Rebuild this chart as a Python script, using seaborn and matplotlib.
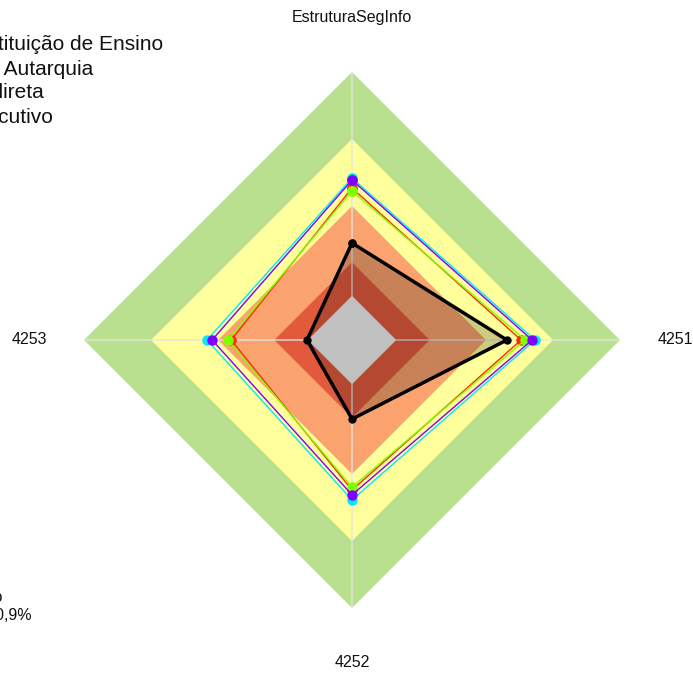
import numpy as np
import pandas as pd
import matplotlib
matplotlib.use("Agg")
import matplotlib.pyplot as plt
import seaborn as sns

sns.set_theme(style="white")
plt.rcParams["font.family"] = ["Liberation Sans", "DejaVu Sans"]

# Radar axes (clockwise from the top)
categorias = ["EstruturaSegInfo", "4251", "4252", "4253"]

# Maturity bands (outer limit of each ring, in %)
faixas_limite = [100, 75, 50, 29, 16.5]
faixas_cor = ["#b9e08e", "#ffff9c", "#fba36f", "#e25a3c", "#c0c0c0"]

# Reference groups
grupos = ["Instituição de Ensino", "Autarquia", "Indireta", "Executivo"]
grupos_cor = ["#00e8ff", "#8000ff", "#ff2a00", "#80ff00"]
grupos_valores = [
    [60.4, 68.3, 59.7, 54.1],
    [59.7, 67.2, 57.8, 52.2],
    [56.7, 63.1, 56.0, 45.1],
    [55.6, 64.6, 54.9, 46.3],
]

# Organisation being evaluated
orgao_valores = [36.2, 57.8, 29.5, 16.8]

n = len(categorias)
angulos = np.arange(n) * 2 * np.pi / n
angulos_fech = np.append(angulos, angulos[0] + 2 * np.pi)


def fechar(v):
    return np.append(v, v[0])


fig = plt.figure(figsize=(6.93, 6.75), dpi=100)
ax = fig.add_axes([0.1212, 0.0993, 0.7735, 0.794], projection="polar")
ax.set_theta_zero_location("N")
ax.set_theta_direction(-1)
ax.set_ylim(0, 100)
ax.set_xticks([])
ax.set_yticks([])
ax.grid(False)
ax.spines["polar"].set_visible(False)

# Background rings (all but the central one)
for lim, cor in zip(faixas_limite[:-1], faixas_cor[:-1]):
    ax.fill(angulos_fech, fechar(np.full(n, lim)), color=cor, lw=0, zorder=1)

# Spokes
ax.vlines(angulos, 0, 100, colors="#e4e4e4", lw=1.2, alpha=0.8, zorder=2)

# Organisation area
ax.fill(angulos_fech, fechar(orgao_valores), color="black", alpha=0.2, lw=0, zorder=3)

# Central ring
ax.fill(angulos_fech, fechar(np.full(n, faixas_limite[-1])), color=faixas_cor[-1], lw=0, zorder=4)

# Reference groups
ordem = [0, 2, 3, 1]
for i in ordem:
    df = pd.DataFrame({"theta": angulos_fech, "valor": fechar(grupos_valores[i])})
    sns.lineplot(data=df, x="theta", y="valor", sort=False, estimator=None,
                 color=grupos_cor[i], lw=1.0, marker="o", markersize=7.5,
                 markeredgewidth=0, ax=ax, zorder=5 + ordem.index(i))

# Organisation
df_org = pd.DataFrame({"theta": angulos_fech, "valor": fechar(orgao_valores)})
sns.lineplot(data=df_org, x="theta", y="valor", sort=False, estimator=None,
             color="black", lw=2.5, marker="o", markersize=6, markeredgewidth=0,
             ax=ax, zorder=10)
ax.set_xlabel("")
ax.set_ylabel("")

# Axis labels
for ang, nome in zip(angulos, categorias):
    ax.text(ang, 120.5, nome, ha="center", va="center", fontsize=11.5,
            color="#111111", clip_on=False)

# Group description (right-aligned block running off the left edge)
linhas = ["Instituição de Ensino", "É Autarquia", "Indireta", "Executivo"]
fim_px = [163, 93, 44, 53]
for k, (txt, xf) in enumerate(zip(linhas, fim_px)):
    fig.text(xf / 693, 1 - (44 + 24.5 * k) / 675, txt, ha="right", va="center",
             fontsize=15, color="#111111")

fig.text(3 / 693, 1 - 596 / 675, "Órgão", ha="right", va="center", fontsize=11.5,
         color="#111111")
fig.text(32 / 693, 1 - 616 / 675, "Geral: 30,9%", ha="right", va="center",
         fontsize=11.5, color="#111111")

fig.savefig("out.png", dpi=100, facecolor="white")
